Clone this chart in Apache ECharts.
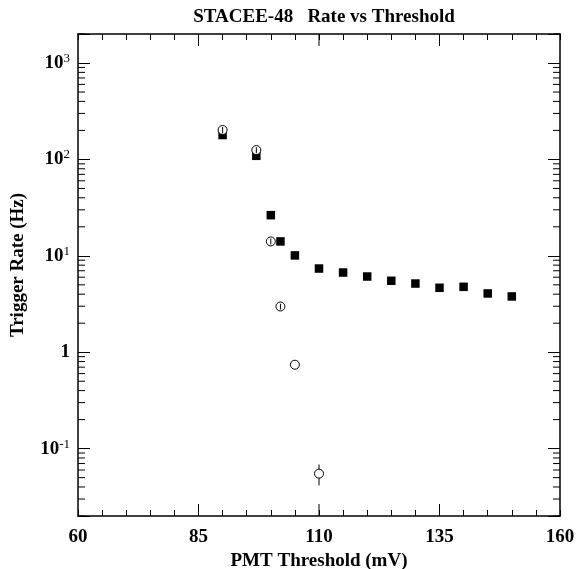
<!DOCTYPE html>
<html>
<head>
<meta charset="utf-8">
<script src="https://cdn.jsdelivr.net/npm/echarts@6/dist/echarts.min.js"></script>
<style>html,body{margin:0;padding:0;background:#fff}#c{width:576px;height:569px}</style>
</head>
<body>
<div id="c"></div>
<script>
// ---- data ----
const xMajorTicks = [60, 85, 110, 135, 160];
const squaresX = [90, 97, 100, 102, 105, 110, 115, 120, 125, 130, 135, 140, 145, 150];
const squaresY = [179, 109, 26.4, 14.1, 10.1, 7.38, 6.71, 6.1, 5.51, 5.16, 4.66, 4.77, 4.07, 3.79];
const circlesX = [90, 97, 100, 102, 105, 110];
const circlesY = [202, 125, 14.1, 2.98, 0.742, 0.055];
const circlesErr = [15, 9, 1, 0.2, 0, 0.0135];
const yDecades = [0.01, 0.1, 1, 10, 100, 1000];
const yMinorMult = [2, 3, 4, 5, 6, 7, 8, 9];
const xMin = 60, xMax = 160, yMin = 0.02, yMax = 2000;

const FONT = 'Liberation Serif';
const FS = 19;
const yMinorTicks = [];
yDecades.forEach(d => yMinorMult.forEach(m => { const v = d * m; if (v > yMin * 0.999 && v < yMax * 1.001) yMinorTicks.push([xMin, v]); }));
const squares = squaresX.map((x, i) => [x, squaresY[i]]);
const circles = circlesX.map((x, i) => [x, circlesY[i]]);
const errs = circlesX.map((x, i) => [x, circlesY[i], circlesY[i] - circlesErr[i], circlesY[i] + circlesErr[i]]).filter((d, i) => circlesErr[i] > 0);
const majorX = xMajorTicks.filter(v => v > xMin && v < xMax).map(v => [v, yMin]);

function yLabel(v) {
  const l = Math.log10(v), e = Math.round(l);
  if (Math.abs(l - e) > 1e-6) return '';
  if (e === 0) return '{b|1}';
  return '{b|10}{s|' + e + '}';
}

const chart = echarts.init(document.getElementById('c'));
const axisLine = { show: true, onZero: false, lineStyle: { color: '#000', width: 1.5 } };
chart.setOption({
  animation: false,
  title: {
    text: 'STACEE-48   Rate vs Threshold',
    left: 319, top: 3, textAlign: 'center',
    textStyle: { fontFamily: FONT, fontWeight: 'bold', fontSize: FS, color: '#000' }
  },
  grid: { left: 78, right: 16, top: 34, bottom: 53, containLabel: false, outerBoundsMode: 'none' },
  xAxis: [{
    type: 'value', min: xMin, max: xMax, interval: 5, position: 'bottom',
    axisLine: axisLine,
    axisTick: { inside: true, length: 6, lineStyle: { color: '#000', width: 1 } },
    axisLabel: {
      margin: 12, color: '#000', fontFamily: FONT, fontWeight: 'bold', fontSize: FS,
      formatter: v => (xMajorTicks.indexOf(v) >= 0 ? String(v) : '')
    },
    splitLine: { show: false },
    name: 'PMT Threshold (mV)', nameLocation: 'middle', nameGap: 30,
    nameTextStyle: { color: '#000', fontFamily: FONT, fontWeight: 'bold', fontSize: FS }
  }, {
    type: 'value', min: xMin, max: xMax, interval: 5, position: 'top',
    axisLine: axisLine,
    axisTick: { inside: true, length: 6, lineStyle: { color: '#000', width: 1 } },
    axisLabel: { show: false }, splitLine: { show: false }
  }],
  yAxis: [{
    type: 'log', logBase: 10, min: yMin, max: yMax, position: 'left',
    axisLine: axisLine,
    axisTick: { inside: true, length: 12, lineStyle: { color: '#000', width: 1 } },
    axisLabel: {
      margin: 8, color: '#000', formatter: yLabel,
      rich: {
        b: { fontFamily: FONT, fontWeight: 'bold', fontSize: FS, color: '#000' },
        s: { fontFamily: FONT, fontWeight: 'normal', fontSize: 13, color: '#000', padding: [0, 0, 9, 0] }
      }
    },
    splitLine: { show: false },
    name: 'Trigger Rate (Hz)', nameLocation: 'middle', nameGap: 50,
    nameTextStyle: { color: '#000', fontFamily: FONT, fontWeight: 'bold', fontSize: FS, padding: [0, 0, 0, 20] }
  }, {
    type: 'log', logBase: 10, min: yMin, max: yMax, position: 'right',
    axisLine: axisLine,
    axisTick: { inside: true, length: 12, lineStyle: { color: '#000', width: 1 } },
    axisLabel: { show: false }, splitLine: { show: false }
  }],
  series: [{
    type: 'custom', name: 'yMinor', data: yMinorTicks, clip: false, silent: true, z: 5,
    renderItem: function (params, api) {
      const v = api.value(1);
      const pl = api.coord([xMin, v]), pr = api.coord([xMax, v]);
      const st = { stroke: '#000', lineWidth: 1 };
      return { type: 'group', children: [
        { type: 'line', shape: { x1: pl[0], y1: pl[1], x2: pl[0] + 7, y2: pl[1] }, style: st },
        { type: 'line', shape: { x1: pr[0], y1: pr[1], x2: pr[0] - 7, y2: pr[1] }, style: st }
      ] };
    }
  }, {
    type: 'custom', name: 'xMajor', data: majorX, clip: false, silent: true, z: 5,
    renderItem: function (params, api) {
      const v = api.value(0);
      const pb = api.coord([v, yMin]), pt = api.coord([v, yMax]);
      const st = { stroke: '#000', lineWidth: 1 };
      return { type: 'group', children: [
        { type: 'line', shape: { x1: pb[0], y1: pb[1], x2: pb[0], y2: pb[1] - 12 }, style: st },
        { type: 'line', shape: { x1: pt[0], y1: pt[1], x2: pt[0], y2: pt[1] + 12 }, style: st }
      ] };
    }
  }, {
    type: 'scatter', name: 'squares', data: squares, symbol: 'rect', symbolSize: 8.5,
    itemStyle: { color: '#000', opacity: 1 }, z: 3
  }, {
    type: 'scatter', name: 'circles', data: circles, symbol: 'circle', symbolSize: 9,
    itemStyle: { color: '#fff', borderColor: '#000', borderWidth: 1, opacity: 1 }, z: 3
  }, {
    type: 'custom', name: 'err', data: errs, clip: false, silent: true, z: 4,
    encode: { x: 0, y: 1 },
    renderItem: function (params, api) {
      const x = api.value(0);
      const c = api.coord([x, api.value(1)]);
      const lo = api.coord([x, api.value(2)]), hi = api.coord([x, api.value(3)]);
      const r = 4.5, st = { stroke: '#000', lineWidth: 1 };
      if ((lo[1] - hi[1]) / 2 > r) {
        return { type: 'group', children: [
          { type: 'line', shape: { x1: c[0], y1: hi[1], x2: c[0], y2: c[1] - r }, style: st },
          { type: 'line', shape: { x1: c[0], y1: c[1] + r, x2: c[0], y2: lo[1] }, style: st }
        ] };
      }
      return { type: 'line', shape: { x1: c[0], y1: hi[1], x2: c[0], y2: lo[1] }, style: st };
    }
  }]
});
</script>
</body>
</html>
